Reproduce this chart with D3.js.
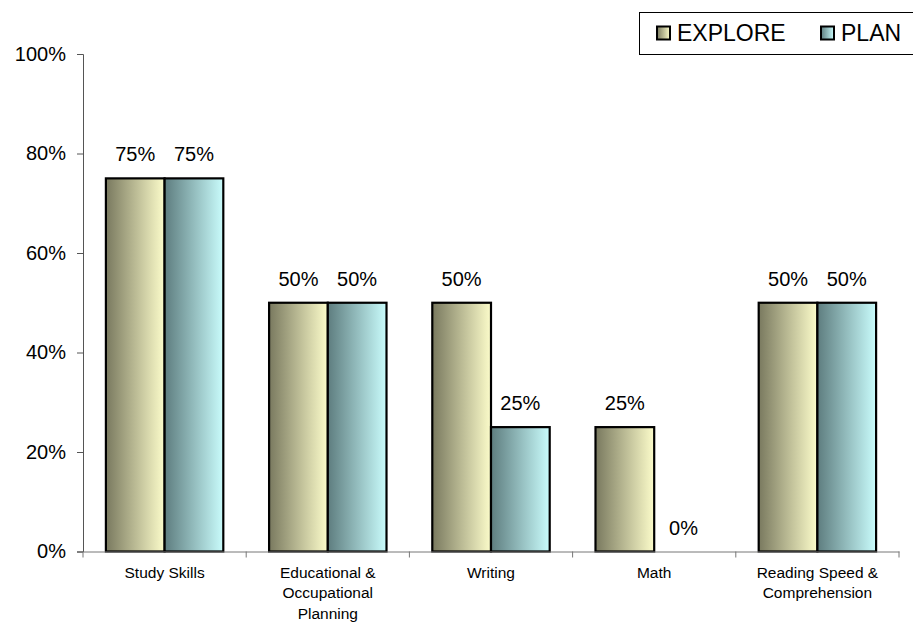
<!DOCTYPE html>
<html>
<head>
<meta charset="utf-8">
<script src="https://cdn.jsdelivr.net/npm/d3@7"></script>
<style>
  html, body { margin: 0; padding: 0; background: #fff; }
  svg { display: block; font-family: Arial, "Liberation Sans", sans-serif; }
</style>
</head>
<body>
<svg id="chart" width="913" height="623"></svg>
<script>
// Share of students per focus area, by assessment
const categories = [
  ["Study Skills"],
  ["Educational &", "Occupational", "Planning"],
  ["Writing"],
  ["Math"],
  ["Reading Speed &", "Comprehension"]
];
const seriesNames = ["EXPLORE", "PLAN"];
const exploreValues = [0.75, 0.50, 0.50, 0.25, 0.50];
const planValues = [0.75, 0.50, 0.25, 0.00, 0.50];
const yTickValues = [0, 0.2, 0.4, 0.6, 0.8, 1.0];

const seriesValues = [exploreValues, planValues];
const gradients = [
  { id: "gradExplore", from: "#79795f", to: "#fcfcca" },
  { id: "gradPlan", from: "#5e7d7f", to: "#c9fcfc" }
];

const svg = d3.select("#chart");
const margin = { left: 83, right: 14, top: 54, bottom: 71 };
const W = 913, H = 623;

const catKeys = categories.map(c => c.join(" "));
const x = d3.scaleBand().domain(catKeys).range([margin.left, W - margin.right]).padding(0);
const xs = d3.scaleBand().domain(seriesNames).range([0, x.bandwidth()]).paddingInner(0).paddingOuter(0.39);
const y = d3.scaleLinear().domain([0, 1]).range([H - margin.bottom - 0.5, margin.top]);

// Horizontal shading for the bars
const defs = svg.append("defs");
gradients.forEach(g => {
  const lg = defs.append("linearGradient").attr("id", g.id)
    .attr("x1", "0%").attr("x2", "100%").attr("y1", "0%").attr("y2", "0%");
  lg.append("stop").attr("offset", "0%").attr("stop-color", g.from);
  lg.append("stop").attr("offset", "100%").attr("stop-color", g.to);
});

// Bars
const groups = svg.append("g").selectAll("g")
  .data(catKeys).join("g")
  .attr("transform", d => `translate(${x(d)},0)`);

groups.each(function(cat, ci) {
  const g = d3.select(this);
  seriesNames.forEach((s, si) => {
    const v = seriesValues[si][ci];
    if (v > 0) {
      g.append("rect")
        .attr("x", xs(s))
        .attr("y", y(v))
        .attr("width", xs.bandwidth())
        .attr("height", y(0) - y(v))
        .attr("fill", `url(#${gradients[si].id})`)
        .attr("stroke", "#000")
        .attr("stroke-width", 2.2);
    }
    g.append("text")
      .attr("x", xs(s) + xs.bandwidth() / 2)
      .attr("y", y(v) - 17)
      .attr("text-anchor", "middle")
      .attr("font-size", 20)
      .attr("fill", "#000")
      .text(d3.format(".0%")(v));
  });
});

// Y axis
const yAxis = d3.axisLeft(y).tickValues(yTickValues).tickFormat(d3.format(".0%")).tickSize(6).tickPadding(11);
const yg = svg.append("g").attr("transform", `translate(${margin.left},0)`).call(yAxis);
yg.select(".domain").attr("stroke", "#555");
yg.selectAll(".tick line").attr("stroke", "#555");
yg.selectAll(".tick text").attr("font-size", 20).attr("fill", "#000")
  .attr("font-family", "Arial, 'Liberation Sans', sans-serif");

// X axis
const xAxis = d3.axisBottom(x).tickSize(0).tickFormat("");
const xg = svg.append("g").attr("transform", `translate(0,${y(0)})`).call(xAxis);
xg.select(".domain").attr("stroke", "#777");
xg.selectAll(".tick").remove();
// Category boundary tick marks
const bounds = catKeys.map(k => x(k)).concat([x(catKeys[catKeys.length - 1]) + x.bandwidth()]);
svg.append("g").selectAll("line").data(bounds).join("line")
  .attr("x1", d => d).attr("x2", d => d)
  .attr("y1", y(0)).attr("y2", y(0) + 6)
  .attr("stroke", "#777");

// Category labels
categories.forEach((lines, i) => {
  const t = svg.append("text")
    .attr("text-anchor", "middle")
    .attr("font-size", 15.5)
    .attr("fill", "#000");
  lines.forEach((ln, j) => {
    t.append("tspan")
      .attr("x", x(catKeys[i]) + x.bandwidth() / 2)
      .attr("y", y(0) + 26 + j * 20.5)
      .text(ln);
  });
});

// Legend
const legend = svg.append("g");
legend.append("rect")
  .attr("x", 639.5).attr("y", 12.5).attr("width", 290).attr("height", 42)
  .attr("fill", "#fff").attr("stroke", "#000").attr("stroke-width", 1);
const legendX = [656, 820];
seriesNames.forEach((s, i) => {
  legend.append("rect")
    .attr("x", legendX[i] + 1).attr("y", 26.5).attr("width", 13).attr("height", 13)
    .attr("fill", `url(#${gradients[i].id})`)
    .attr("stroke", "#000").attr("stroke-width", 2);
  legend.append("text")
    .attr("x", legendX[i] + 21).attr("y", 41)
    .attr("font-size", 23)
    .attr("fill", "#000")
    .text(s);
});
</script>
</body>
</html>
